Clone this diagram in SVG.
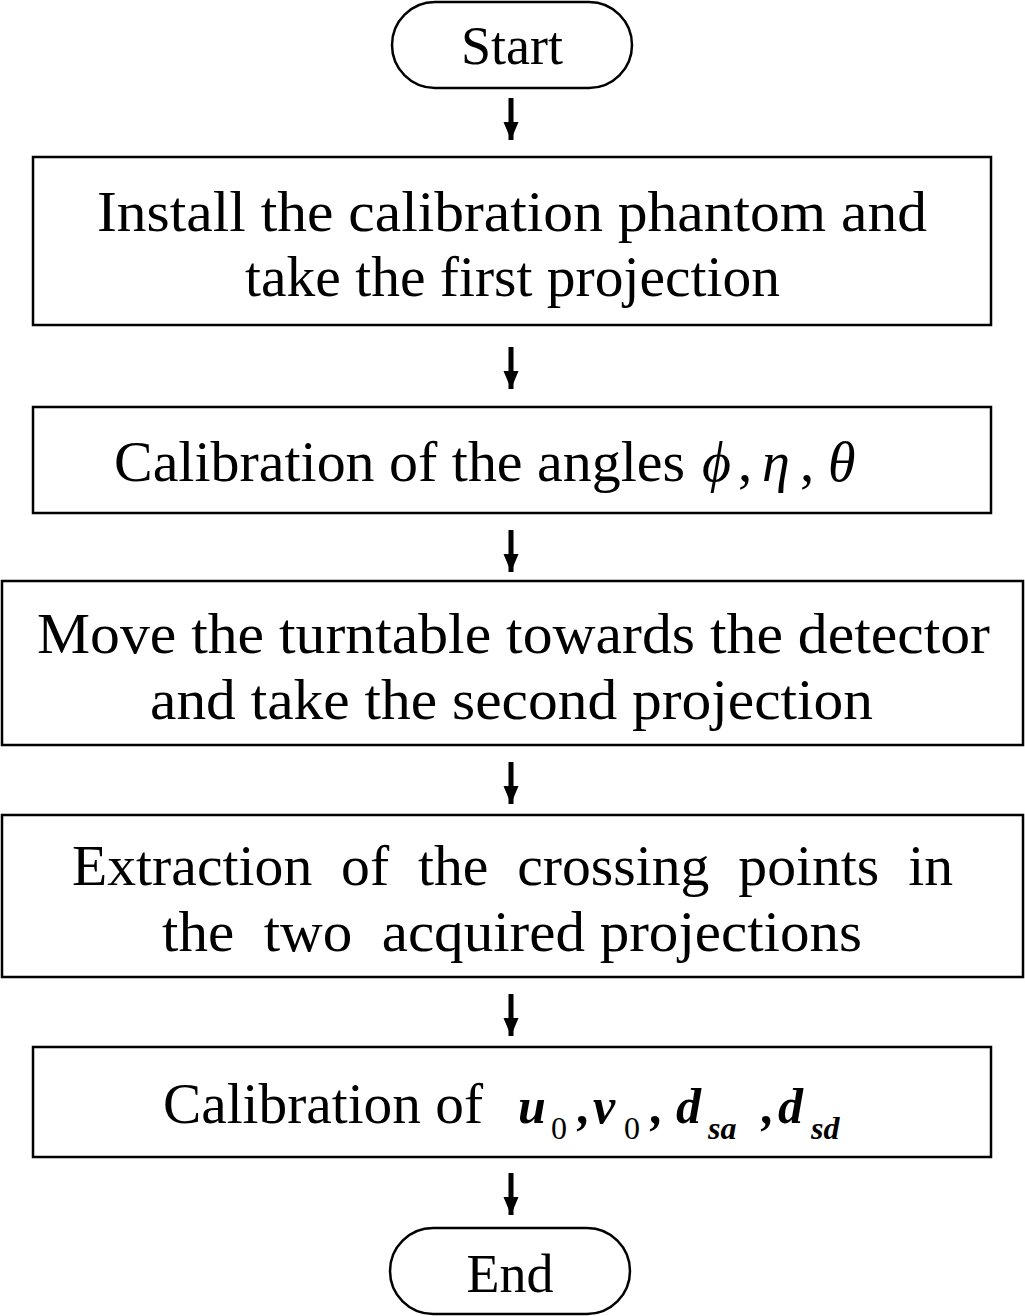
<svg xmlns="http://www.w3.org/2000/svg" width="1025" height="1316" viewBox="0 0 1025 1316">
<defs>
<style>
.box{fill:#fff;stroke:#000;stroke-width:2.5}
.t{font-family:"Liberation Serif","Times New Roman",serif;font-size:57px;fill:#000;white-space:pre}
.term{font-family:"Liberation Serif","Times New Roman",serif;font-size:54px;fill:#000}
.mi{font-family:"Liberation Serif","Times New Roman",serif;font-size:56px;font-style:italic;fill:#000}
.mb{font-family:"Liberation Serif","Times New Roman",serif;font-size:50px;font-style:italic;font-weight:bold;fill:#000}
.sub{font-family:"Liberation Serif","Times New Roman",serif;font-size:32px;fill:#000}
.subb{font-family:"Liberation Serif","Times New Roman",serif;font-size:32px;font-style:italic;font-weight:bold;fill:#000}
.arr{stroke:#000;stroke-width:5;fill:none}
</style>
<marker id="ah" markerUnits="userSpaceOnUse" markerWidth="18" markerHeight="18" viewBox="0 0 18 18" refX="18" refY="9" orient="auto">
<path d="M0,1.5 L18,9 L0,16.5 Z" fill="#000"/>
</marker>
</defs>
<rect width="1025" height="1316" fill="#fff"/>

<g id="connectors">
<line class="arr" x1="511" y1="98" x2="511" y2="140" marker-end="url(#ah)"/>
<line class="arr" x1="511" y1="347" x2="511" y2="389" marker-end="url(#ah)"/>
<line class="arr" x1="511" y1="530" x2="511" y2="572" marker-end="url(#ah)"/>
<line class="arr" x1="511" y1="762" x2="511" y2="804" marker-end="url(#ah)"/>
<line class="arr" x1="511" y1="994" x2="511" y2="1036" marker-end="url(#ah)"/>
<line class="arr" x1="511" y1="1173" x2="511" y2="1215" marker-end="url(#ah)"/>
</g>

<g id="start">
<rect class="box" x="392" y="2" width="240" height="86" rx="43" ry="43"/>
<text class="term" x="512" y="64" text-anchor="middle">Start</text>
</g>

<g id="step1">
<rect class="box" x="33" y="157" width="958" height="168"/>
<text class="t" x="97" y="231" textLength="830" lengthAdjust="spacingAndGlyphs">Install the calibration phantom and</text>
<text class="t" x="245" y="296" textLength="535" lengthAdjust="spacingAndGlyphs">take the first projection</text>
</g>

<g id="step2">
<rect class="box" x="33" y="407" width="958" height="106"/>
<text class="t" x="114" y="481" textLength="571" lengthAdjust="spacingAndGlyphs">Calibration of the angles</text>
<text class="mi" x="702" y="481">ϕ</text>
<text class="t" x="738" y="481">,</text>
<text class="mi" x="762" y="481">η</text>
<text class="t" x="800" y="481">,</text>
<text class="mi" x="828" y="481">θ</text>
</g>

<g id="step3">
<rect class="box" x="2" y="581" width="1021" height="164"/>
<text class="t" x="37" y="653" textLength="953" lengthAdjust="spacingAndGlyphs">Move the turntable towards the detector</text>
<text class="t" x="150" y="719" textLength="723" lengthAdjust="spacingAndGlyphs">and take the second projection</text>
</g>

<g id="step4">
<rect class="box" x="2" y="815" width="1021" height="162"/>
<text class="t" x="72" y="885" textLength="881" lengthAdjust="spacingAndGlyphs">Extraction  of  the  crossing  points  in</text>
<text class="t" x="162" y="951" textLength="700" lengthAdjust="spacingAndGlyphs">the  two  acquired projections</text>
</g>

<g id="step5">
<rect class="box" x="33" y="1047" width="958" height="110"/>
<text class="t" x="163" y="1123" textLength="320" lengthAdjust="spacingAndGlyphs">Calibration of</text>
<text class="mb" x="518" y="1123">u</text>
<text class="sub" x="551" y="1139">0</text>
<text class="mb" x="578" y="1123">,</text>
<text class="mb" x="593" y="1123">v</text>
<text class="sub" x="624" y="1139">0</text>
<text class="mb" x="651" y="1123">,</text>
<text class="mb" x="676" y="1123">d</text>
<text class="subb" x="708" y="1139">sa</text>
<text class="mb" x="762" y="1123">,</text>
<text class="mb" x="778" y="1123">d</text>
<text class="subb" x="811" y="1139">sd</text>
</g>

<g id="end">
<rect class="box" x="390" y="1228" width="240" height="86" rx="43" ry="43"/>
<text class="term" x="510" y="1292" text-anchor="middle">End</text>
</g>
</svg>
